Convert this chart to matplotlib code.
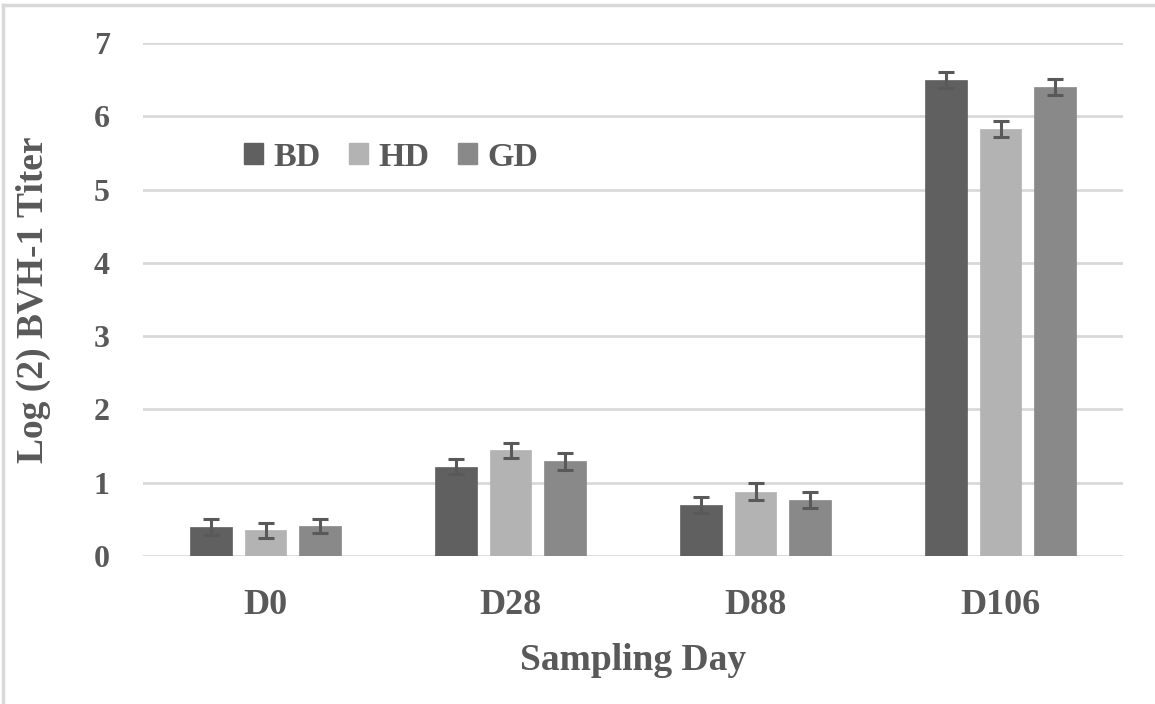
import matplotlib
matplotlib.use("Agg")
import matplotlib.pyplot as plt
from matplotlib.patches import Patch
from matplotlib.lines import Line2D
import numpy as np

categories = ["D0", "D28", "D88", "D106"]
series_names = ["BD", "HD", "GD"]
bd_values = [0.39, 1.22, 0.69, 6.50]
hd_values = [0.35, 1.44, 0.88, 5.83]
gd_values = [0.41, 1.29, 0.76, 6.40]
bd_err = [0.11, 0.10, 0.11, 0.11]
hd_err = [0.10, 0.10, 0.11, 0.11]
gd_err = [0.10, 0.11, 0.11, 0.11]
yticks = [0, 1, 2, 3, 4, 5, 6, 7]

colors = ["#606060", "#b3b3b3", "#898989"]
text_color = "#595959"
grid_color = "#d9d9d9"

plt.rcParams['font.family'] = ['Liberation Serif', 'DejaVu Serif']
plt.rcParams['font.weight'] = 'bold'

fig = plt.figure(figsize=(11.55, 7.04), dpi=100)
ax = fig.add_axes([143/1155, 1-556/704, (1123-143)/1155, (556-43)/704])

x = np.arange(len(categories))
width = 0.1714
step = 0.2224
vals = [bd_values, hd_values, gd_values]
errs = [bd_err, hd_err, gd_err]
for i, (v, e) in enumerate(zip(vals, errs)):
    ax.bar(x + (i-1)*step, v, width, color=colors[i], edgecolor=colors[i], linewidth=0.5, zorder=3,
           label=series_names[i])
    ax.errorbar(x + (i-1)*step, v, yerr=e, fmt='none', ecolor=text_color, elinewidth=2.2,
                capsize=5.5, capthick=2.2, zorder=4)

ax.set_xlim(-0.5, 3.5)
ax.set_ylim(0, 7)
ax.set_yticks(yticks)
ax.set_xticks(x)
ax.set_xticklabels(categories)
for s in ax.spines.values():
    s.set_visible(False)
ax.yaxis.grid(True, color=grid_color, linewidth=2, zorder=0)
ax.set_axisbelow(True)
ax.tick_params(axis='both', length=0, labelcolor=text_color, labelsize=23)
ax.tick_params(axis='y', pad=24)
ax.tick_params(axis='x', pad=24, labelsize=26)
for lab in ax.get_xticklabels() + ax.get_yticklabels():
    lab.set_fontweight('bold')

fig.text(633/1155, 1-660/704, "Sampling Day", ha='center', va='center', fontsize=27,
         fontweight='bold', color=text_color)
fig.text(33/1155, 1-300/704, "Log (2) BVH-1 Titer", ha='center', va='center', fontsize=27,
         fontweight='bold', color=text_color, rotation=90)

handles = [Patch(facecolor=c, edgecolor=c) for c in colors]
leg = fig.legend(handles, series_names, loc='center left', bbox_to_anchor=(227/1155, 1-157/704),
                 ncol=3, frameon=False, fontsize=24.5, handlelength=0.55, handleheight=0.55,
                 handletextpad=0.3, columnspacing=0.85, borderpad=0)
for t in leg.get_texts():
    t.set_color(text_color)
    t.set_fontweight('bold')

fig.add_artist(Line2D([3/1155, 3/1155], [0, 1-5/704], color=grid_color, linewidth=2.5))
fig.add_artist(Line2D([3/1155, 1], [1-5/704, 1-5/704], color=grid_color, linewidth=2.5))

fig.savefig("out.png", dpi=100, facecolor='white')
